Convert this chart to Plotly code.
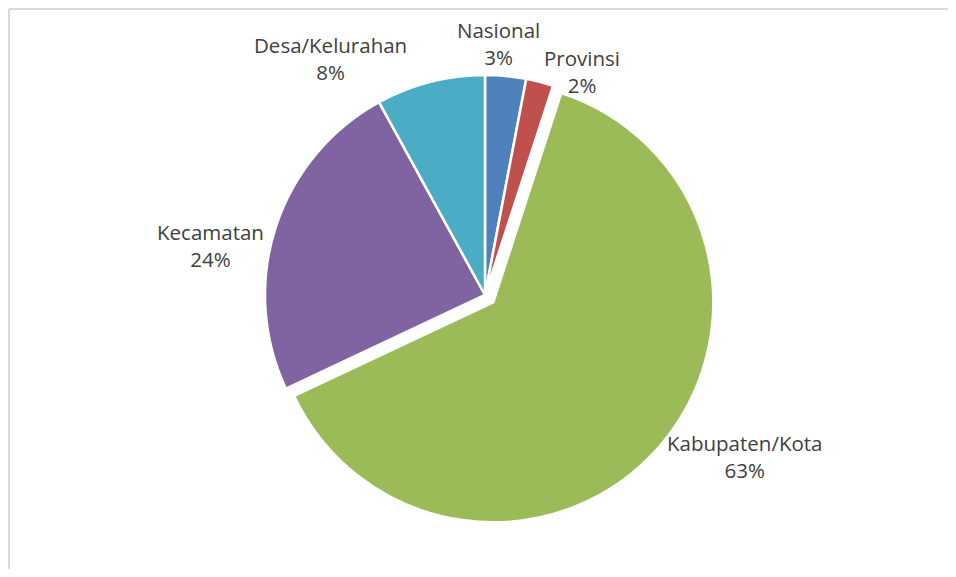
import math
import plotly.graph_objects as go

categories = ["Nasional", "Provinsi", "Kabupaten/Kota", "Kecamatan", "Desa/Kelurahan"]
values = [3, 2, 63, 24, 8]
pulls = [0, 0, 0.05, 0, 0]
colors = ["#4F81BD", "#C0504D", "#9BBB59", "#8064A2", "#4BACC6"]

# page body has an 8px margin, so the figure starts at (8, 8);
# keep the figure inside the window so no scrollbars appear
OFF = 8
W, H = 956 - 2 * OFF, 577 - 2 * OFF
CX, CY = 485 - OFF, 295 - OFF   # pie centre in figure pixels
R = 220                          # pie radius in pixels
maxpull = max(pulls)
half = R * (1 + maxpull)

dom_x = [(CX - half) / W, (CX + half) / W]
dom_y = [(H - CY - half) / H, (H - CY + half) / H]

fig = go.Figure(go.Pie(
    labels=categories,
    values=values,
    pull=pulls,
    sort=False,
    direction="clockwise",
    rotation=0,
    marker=dict(colors=colors, line=dict(color="white", width=2.5)),
    textinfo="none",
    hoverinfo="label+percent",
    showlegend=False,
    domain=dict(x=dom_x, y=dom_y),
))

# label placement derived from slice mid-angles
label_k = 1.15
shifts = [(-10, 0), (34, -22), (61, 13), (-34, -29), (-92, -9)]
total = sum(values)
cum = 0
annotations = []
for i, (cat, v) in enumerate(zip(categories, values)):
    mid = (cum + v / 2) / total * 2 * math.pi
    cum += v
    s, c = math.sin(mid), math.cos(mid)
    cx = CX + pulls[i] * R * s
    cy = CY - pulls[i] * R * c
    px = cx + label_k * R * s
    py = cy - label_k * R * c
    pct = round(v / total * 100)
    annotations.append(dict(
        x=px / W, y=1 - py / H, xref="paper", yref="paper",
        text=f"{cat}<br>{pct}%", showarrow=False,
        xanchor="center", yanchor="middle",
        xshift=shifts[i][0], yshift=shifts[i][1],
        font=dict(family="Open Sans", size=20.5, color="#404040"),
    ))

fig.update_layout(
    width=W, height=H,
    margin=dict(l=0, r=0, t=0, b=0),
    paper_bgcolor="white",
    plot_bgcolor="white",
    annotations=annotations,
    shapes=[
        dict(type="line", xref="paper", yref="paper",
             x0=1 / W, y0=1 - 1 / H, x1=1, y1=1 - 1 / H,
             line=dict(color="#D9D9D9", width=2)),
        dict(type="line", xref="paper", yref="paper",
             x0=1 / W, y0=1 - 1 / H, x1=1 / W, y1=0,
             line=dict(color="#D9D9D9", width=2)),
    ],
)

fig.write_html("out.html", config={"displayModeBar": False})
